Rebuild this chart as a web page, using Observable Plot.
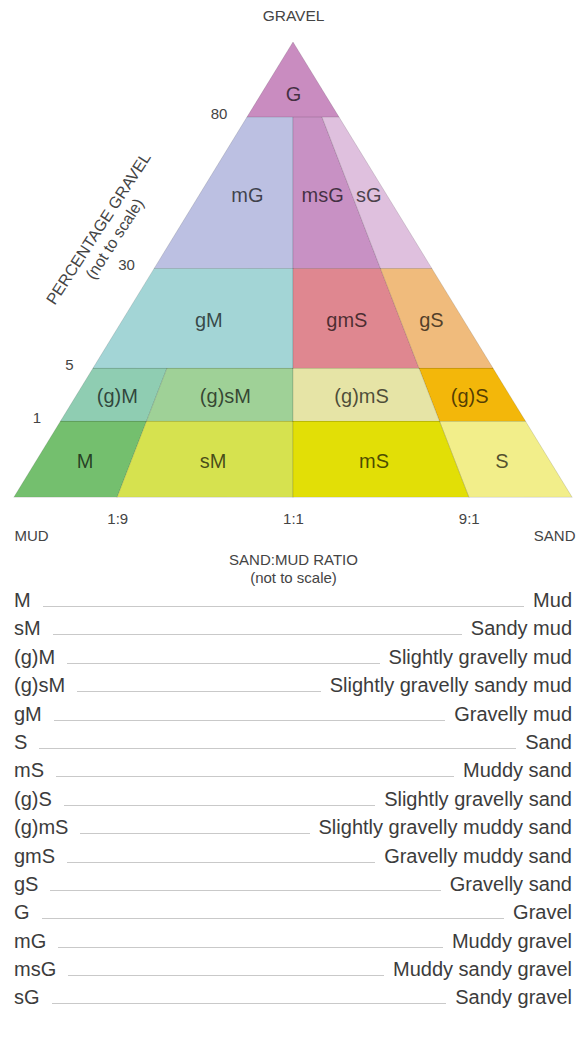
<!DOCTYPE html>
<html>
<head>
<meta charset="utf-8">
<script src="https://cdn.jsdelivr.net/npm/d3@7"></script>
<script src="https://cdn.jsdelivr.net/npm/@observablehq/plot@0.6"></script>
<style>
  html, body { margin: 0; padding: 0; background: #fff; }
  #chart svg { display: block; }
  #legend { width: 577px; box-sizing: border-box; padding: 0 5px 0 14px;
    font-family: "Liberation Sans", Arial, sans-serif; font-size: 20px; color: #3c3c3c; }
  .row { display: flex; align-items: baseline; height: 28.4px; line-height: 28.4px; }
  .fill { flex: 1; border-bottom: 1px solid #c9c9c9; margin: 0 9px 0 12px; height: 0; }
</style>
</head>
<body>
<div id="chart"></div>
<div id="legend"></div>
<script>
// ---- Data ----
const classCodes = ["M","sM","(g)M","(g)sM","gM","S","mS","(g)S","(g)mS","gmS","gS","G","mG","msG","sG"];
const classNames = ["Mud","Sandy mud","Slightly gravelly mud","Slightly gravelly sandy mud","Gravelly mud",
  "Sand","Muddy sand","Slightly gravelly sand","Slightly gravelly muddy sand","Gravelly muddy sand",
  "Gravelly sand","Gravel","Muddy gravel","Muddy sandy gravel","Sandy gravel"];
// % gravel range of each class
const gravelMin = [0, 0, 1, 1, 5, 0, 0, 1, 1, 5, 5, 80, 30, 30, 30];
const gravelMax = [1, 1, 5, 5, 30, 1, 1, 5, 5, 30, 30, 100, 80, 80, 80];
// sand fraction of (sand + mud): 0 = mud, 0.1 = 1:9, 0.5 = 1:1, 0.9 = 9:1, 1 = sand
const sandMin = [0, 0.1, 0, 0.1, 0, 0.9, 0.5, 0.9, 0.5, 0.5, 0.9, 0, 0, 0.5, 0.9];
const sandMax = [0.1, 0.5, 0.1, 0.5, 0.5, 1, 0.9, 1, 0.9, 0.9, 1, 1, 0.5, 0.9, 1];
const classColors = ["#74bf6e","#d6e24f","#8fcdb2","#9fd197","#a3d5d6","#f2ee8a","#e2df06","#f3b70a",
  "#e6e4a6","#df8790","#f0bb7c","#c98cc0","#bcc0e2","#c891c4","#dfc0de"];
const gravelBreaks = [0, 1, 5, 30, 80, 100];
const gravelTicks = [80, 30, 5, 1];
const ratioBreaks = [0, 0.1, 0.5, 0.9, 1];
const ratioTicks = [0.1, 0.5, 0.9];
const ratioTickLabels = ["1:9", "1:1", "9:1"];

// ---- "not to scale" mappings into the ternary frame ----
const gravelToH = d3.scaleLinear().domain(gravelBreaks).range([0, 0.167, 0.2835, 0.503, 0.835, 1]);
const sandToP = d3.scaleLinear().domain(ratioBreaks).range([0, 0.185, 0.5, 0.815, 1]);
const tx = (s, g) => 0.5 + (sandToP(s) - 0.5) * (1 - gravelToH(g));
const ty = g => gravelToH(g);

const classes = classCodes.map((code, i) => ({
  code, g0: gravelMin[i], g1: gravelMax[i], s0: sandMin[i], s1: sandMax[i]
}));
const regionPts = classes.flatMap(c => [c.g0, c.g1].map(g => ({
  code: c.code, y: ty(g), x1: tx(c.s0, g), x2: tx(c.s1, g)
})));
const labelPts = classes.map(c => {
  const h = c.g1 === 100
    ? gravelToH(c.g0) + (1 - gravelToH(c.g0)) / 3
    : (gravelToH(c.g0) + gravelToH(c.g1)) / 2;
  const g = gravelToH.invert(h);
  return { code: c.code, x: (tx(c.s0, g) + tx(c.s1, g)) / 2, y: h };
});

const font = '"Liberation Sans", Arial, sans-serif';
const chart = Plot.plot({
  width: 577, height: 586, margin: 0,
  x: { domain: [0, 1], range: [14, 572], axis: null },
  y: { domain: [0, 1], range: [497, 42], axis: null },
  color: { domain: classCodes, range: classColors },
  style: { fontFamily: font, color: "#3c3c3c", background: "#fff" },
  marks: [
    Plot.areaX(regionPts, { y: "y", x1: "x1", x2: "x2", z: "code", fill: "code",
      stroke: "#000", strokeOpacity: 0.12, strokeWidth: 1, curve: "linear" }),
    Plot.text(labelPts, { x: "x", y: "y", text: "code", fontSize: 20, dy: 2,
      fill: "#000", fillOpacity: 0.68 }),
    Plot.text(gravelTicks, { x: g => tx(0, g), y: g => ty(g), text: d => String(d),
      textAnchor: "end", dx: -20, dy: -3, fontSize: 15, fill: "#444" }),
    Plot.text(ratioTicks, { x: s => tx(s, 0), y: 0, text: (d, i) => ratioTickLabels[i],
      dy: 22, fontSize: 15, fill: "#444" }),
    Plot.text(["GRAVEL"], { x: 0.5, y: 1, text: d => d, dy: -26, fontSize: 15.5, fill: "#444" }),
    Plot.text(["MUD"], { x: 0, y: 0, text: d => d, dy: 39, textAnchor: "start", fontSize: 15, fill: "#444" }),
    Plot.text(["SAND"], { x: 1, y: 0, text: d => d, dy: 39, dx: 3, textAnchor: "end", fontSize: 15, fill: "#444" }),
    Plot.text(["SAND:MUD RATIO\n(not to scale)"], { x: 0.5, y: 0, text: d => d, dy: 71,
      fontSize: 15, lineHeight: 1.15, fill: "#444" }),
    Plot.text(["PERCENTAGE GRAVEL\n(not to scale)"], { x: tx(0, gravelToH.invert(0.55)), y: 0.55,
      text: d => d, rotate: -57, dx: -62, dy: -14, fontSize: 16, lineHeight: 1.2, fill: "#444" })
  ]
});
document.getElementById("chart").append(chart);

const legend = document.getElementById("legend");
classCodes.forEach((code, i) => {
  const row = document.createElement("div");
  row.className = "row";
  const a = document.createElement("span"); a.textContent = code;
  const f = document.createElement("span"); f.className = "fill";
  const b = document.createElement("span"); b.textContent = classNames[i];
  row.append(a, f, b);
  legend.append(row);
});
</script>
</body>
</html>
